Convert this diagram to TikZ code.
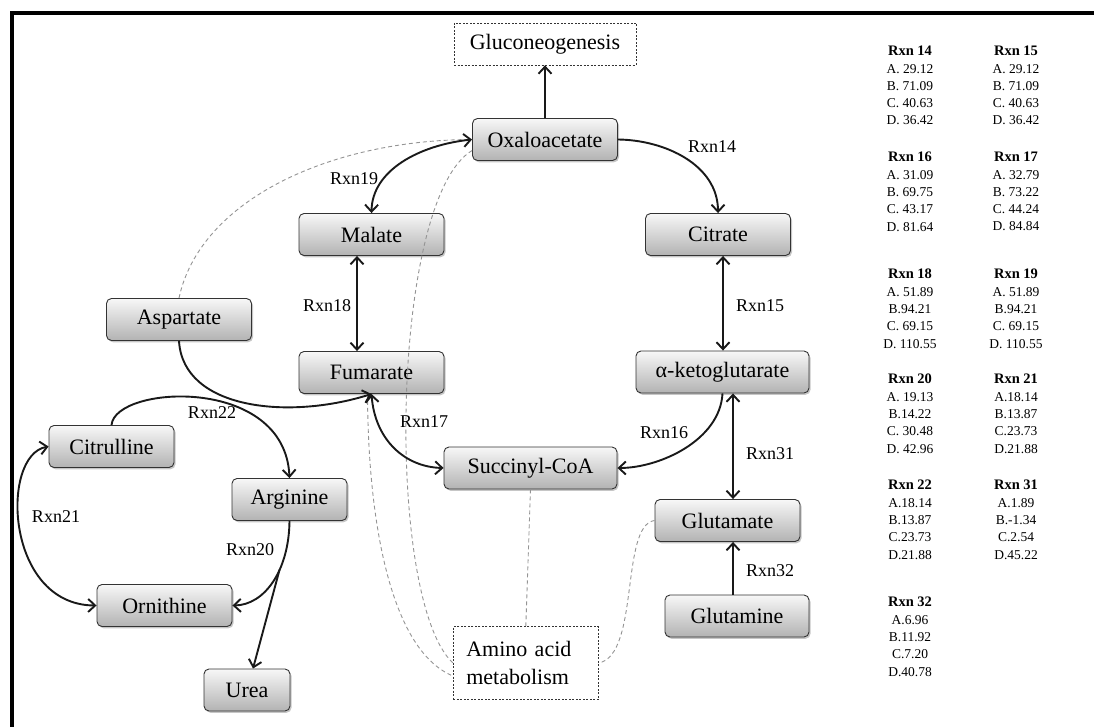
\documentclass[tikz,border=0pt]{standalone}
\usepackage{fontspec}
\setmainfont{Liberation Serif}
\usetikzlibrary{arrows.meta,shadows,calc}
\begin{document}
\begin{tikzpicture}[x=1pt,y=1pt,
  met/.style={draw=black!80, line width=0.9pt, rounded corners=5pt, top color=black!3, bottom color=black!30,
    drop shadow={shadow xshift=1.5pt,shadow yshift=-1.8pt,opacity=0.45},
    minimum height=42pt, inner sep=0pt, font=\fontsize{22}{26}\selectfont},
  dbox/.style={draw=black!80, dash pattern=on 2pt off 1.5pt, line width=0.7pt, inner sep=0pt, font=\fontsize{22}{26}\selectfont},
  arr/.style={line width=1.9pt, draw=black!90, >={Straight Barb[length=7pt,width=13pt]}},
  lbl/.style={font=\fontsize{18}{20}\selectfont, inner sep=0pt},
  dsh/.style={draw=black!42, line width=0.9pt, dash pattern=on 4pt off 3pt},
  tbl/.style={align=center, inner sep=0pt, anchor=north, font=\fontsize{13.5}{17.3}\selectfont}
]
\useasboundingbox (0,0) rectangle (1094,-727);
% frame
\draw[line width=4pt] (12,-727) -- (12,-13) -- (1094,-13);

% nodes
\node[dbox, minimum width=182pt, minimum height=42pt] (gneo) at (545,-44) {Gluconeogenesis};
\node[met, minimum width=145pt] (oxa) at (545,-139.5) {Oxaloacetate};
\node[met, minimum width=145pt] (mal) at (371.5,-234.5) {Malate};
\node[met, minimum width=145pt] (cit) at (718,-234.5) {Citrate};
\node[met, minimum width=145pt] (asp) at (179,-319.5) {Aspartate};
\node[met, minimum width=145pt] (fum) at (371.5,-372.5) {Fumarate};
\node[met, minimum width=173pt] (akg) at (722.5,-372) {α-ketoglutarate};
\node[met, minimum width=125pt] (citr) at (111.5,-446.5) {Citrulline};
\node[met, minimum width=173pt] (suc) at (530.5,-468) {Succinyl-CoA};
\node[met, minimum width=115pt] (arg) at (289.5,-499.5) {Arginine};
\node[met, minimum width=145pt] (glu) at (727.5,-520.5) {Glutamate};
\node[met, minimum width=135pt] (orn) at (164.5,-605.5) {Ornithine};
\node[met, minimum width=144pt] (gln) at (737,-616) {Glutamine};
\node[met, minimum width=86pt] (urea) at (247,-690) {Urea};
\node[dbox, text width=119pt, align=left, inner xsep=13pt, minimum height=73pt, font=\fontsize{22}{28}\selectfont] (amino) at (525.8,-663) {Amino acid\\metabolism};

% dashed gray connections
\draw[dsh] (asp.north) .. controls (200,-200) and (330,-140) .. (oxa.west);
\draw[dsh] ([yshift=-11pt]oxa.west) .. controls (390,-200) and (385,-600) .. (amino.west);
\draw[dsh] ([xshift=-4pt]fum.south) .. controls (368,-520) and (390,-650) .. ([yshift=-13pt]amino.west);
\draw[dsh] (suc.south) -- (amino.north);
\draw[dsh] (glu.west) .. controls (620,-525) and (640,-655) .. (amino.east);

% reactions
\draw[arr,->] (oxa.north) -- (gneo.south);
\draw[arr,->] (oxa.east) .. controls (665,-140) and (718,-165) .. (cit.north);
\node[lbl] (l14) at (712,-147) {Rxn14};
\draw[arr,<->] (oxa.west) .. controls (420,-145) and (372,-170) .. (mal.north);
\node[lbl] (l19) at (354,-179) {Rxn19};
\draw[arr,<->] ([xshift=-14.5pt]mal.south) -- ([xshift=-14.5pt]fum.north);
\node[lbl] (l18) at (327,-306) {Rxn18};
\draw[arr,<->] ([xshift=0.5pt]akg.north |- cit.south) -- ([xshift=0.5pt]akg.north);
\node[lbl] (l15) at (760,-306) {Rxn15};
\draw[arr,<->] ([xshift=10.5pt]akg.south) -- ([xshift=10.5pt]akg.south |- glu.north);
\node[lbl] (l31) at (770,-454) {Rxn31};
\draw[arr,->] ([xshift=-4pt]gln.north) -- ([xshift=-4pt]gln.north |- glu.south);
\node[lbl] (l32) at (770,-571) {Rxn32};
\draw[arr,->] (akg.south) .. controls (720,-440) and (660,-468) .. (suc.east);
\node[lbl] (l16) at (664,-433) {Rxn16};
\draw[arr,<->] (fum.south) .. controls (375,-440) and (405,-467) .. (suc.west);
\node[lbl] (l17) at (424,-422) {Rxn17};
\draw[arr,->] (asp.south) .. controls (183,-410) and (290,-420) .. (fum.south);
\draw[arr,->] (citr.north) .. controls (115,-385) and (285,-375) .. (arg.north);
\node[lbl] (l22) at (212,-413) {Rxn22};
\draw[arr,<->] (citr.west) .. controls (0,-455) and (5,-605) .. (orn.west);
\node[lbl] (l21) at (56,-517) {Rxn21};
\draw[arr,->] (arg.south) .. controls (289,-570) and (265,-605) .. coordinate[pos=0.38] (br) (orn.east);
\draw[arr,->] (br) -- ([xshift=6pt]urea.north);
\node[lbl] (l20) at (250,-550) {Rxn20};

% table
\node[tbl] (t14) at (910,-46) {{\fontsize{14.5}{17.3}\selectfont\bfseries Rxn 14}\\A. 29.12\\B. 71.09\\C. 40.63\\D. 36.42};
\node[tbl] (t15) at (1016,-46) {{\fontsize{14.5}{17.3}\selectfont\bfseries Rxn 15}\\A. 29.12\\B. 71.09\\C. 40.63\\D. 36.42};
\node[tbl] (t16) at (910,-152) {{\fontsize{14.5}{17.3}\selectfont\bfseries Rxn 16}\\A. 31.09\\B. 69.75\\C. 43.17\\D. 81.64};
\node[tbl] (t17) at (1016,-152) {{\fontsize{14.5}{17.3}\selectfont\bfseries Rxn 17}\\A. 32.79\\B. 73.22\\C. 44.24\\D. 84.84};
\node[tbl] (t18) at (910,-269) {{\fontsize{14.5}{17.3}\selectfont\bfseries Rxn 18}\\A. 51.89\\B.94.21\\C. 69.15\\D. 110.55};
\node[tbl] (t19) at (1016,-269) {{\fontsize{14.5}{17.3}\selectfont\bfseries Rxn 19}\\A. 51.89\\B.94.21\\C. 69.15\\D. 110.55};
\node[tbl] (t20) at (910,-374) {{\fontsize{14.5}{17.3}\selectfont\bfseries Rxn 20}\\A. 19.13\\B.14.22\\C. 30.48\\D. 42.96};
\node[tbl] (t21) at (1016,-374) {{\fontsize{14.5}{17.3}\selectfont\bfseries Rxn 21}\\A.18.14\\B.13.87\\C.23.73\\D.21.88};
\node[tbl] (t22) at (910,-480) {{\fontsize{14.5}{17.3}\selectfont\bfseries Rxn 22}\\A.18.14\\B.13.87\\C.23.73\\D.21.88};
\node[tbl] (t31) at (1016,-480) {{\fontsize{14.5}{17.3}\selectfont\bfseries Rxn 31}\\A.1.89\\B.-1.34\\C.2.54\\D.45.22};
\node[tbl] (t32) at (910,-597) {{\fontsize{14.5}{17.3}\selectfont\bfseries Rxn 32}\\A.6.96\\B.11.92\\C.7.20\\D.40.78};
\end{tikzpicture}
\end{document}
